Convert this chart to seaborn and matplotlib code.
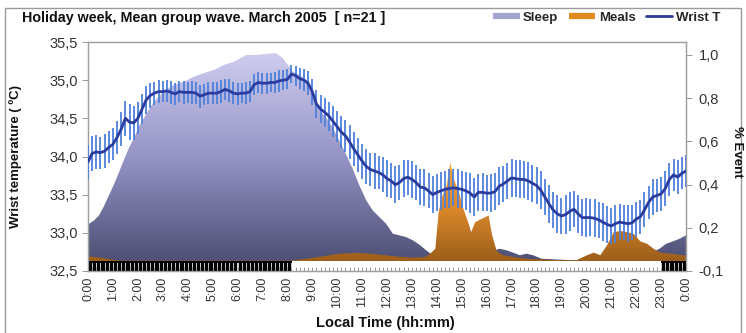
import numpy as np
import matplotlib
matplotlib.use("Agg")
import matplotlib.pyplot as plt
import seaborn as sns
from matplotlib.colors import LinearSegmentedColormap
from matplotlib.lines import Line2D
from matplotlib.patches import Rectangle, PathPatch
from matplotlib.ticker import MultipleLocator, FuncFormatter

# ---------------- data ----------------
title = "Holiday week, Mean group wave. March 2005  [ n=21 ]"
hour_labels = [f"{h % 24}:00" for h in range(25)]

# wrist temperature, one value every 10 minutes (0:00 .. 24:00)
temp_c = [
    33.93, 34.04, 34.06, 34.05, 34.07, 34.12,
    34.16, 34.25, 34.36, 34.50, 34.45, 34.44,
    34.50, 34.62, 34.74, 34.80, 34.83, 34.85,
    34.85, 34.86, 34.84, 34.82, 34.85, 34.84,
    34.84, 34.84, 34.83, 34.79, 34.81, 34.83,
    34.83, 34.83, 34.85, 34.88, 34.86, 34.83,
    34.82, 34.83, 34.83, 34.85, 34.94, 34.97,
    34.96, 34.96, 34.97, 34.97, 34.99, 35.00,
    35.01, 35.08, 35.06, 35.02, 35.00, 34.96,
    34.85, 34.69, 34.62, 34.58, 34.53, 34.46,
    34.39, 34.32, 34.27, 34.19, 34.10, 34.02,
    33.94, 33.87, 33.83, 33.81, 33.79, 33.76,
    33.71, 33.68, 33.63, 33.66, 33.71, 33.73,
    33.70, 33.66, 33.60, 33.59, 33.55, 33.50,
    33.53, 33.55, 33.57, 33.58, 33.59, 33.58,
    33.57, 33.55, 33.52, 33.47, 33.53, 33.53,
    33.52, 33.52, 33.54, 33.61, 33.64, 33.68,
    33.72, 33.71, 33.70, 33.70, 33.68, 33.65,
    33.62, 33.56, 33.47, 33.38, 33.30, 33.25,
    33.22, 33.24, 33.28, 33.31, 33.25, 33.20,
    33.20, 33.20, 33.19, 33.17, 33.14, 33.11,
    33.09, 33.12, 33.14, 33.13, 33.12, 33.13,
    33.18, 33.21, 33.30, 33.40, 33.47, 33.49,
    33.51, 33.58, 33.70, 33.76, 33.73, 33.78,
    33.81,
]
temp_sem = [
    0.22, 0.23, 0.22, 0.21, 0.22, 0.21,
    0.21, 0.22, 0.22, 0.23, 0.24, 0.22,
    0.21, 0.20, 0.18, 0.16, 0.15, 0.15,
    0.14, 0.14, 0.15, 0.14, 0.14, 0.15,
    0.14, 0.15, 0.14, 0.15, 0.14, 0.14,
    0.14, 0.14, 0.15, 0.14, 0.15, 0.14,
    0.14, 0.13, 0.14, 0.14, 0.14, 0.14,
    0.14, 0.14, 0.13, 0.14, 0.14, 0.13,
    0.13, 0.12, 0.13, 0.14, 0.14, 0.16,
    0.17, 0.18, 0.18, 0.19, 0.19, 0.20,
    0.20, 0.21, 0.21, 0.22, 0.22, 0.22,
    0.23, 0.23, 0.22, 0.23, 0.22, 0.23,
    0.24, 0.23, 0.24, 0.23, 0.24, 0.23,
    0.24, 0.23, 0.24, 0.24, 0.23, 0.24,
    0.24, 0.25, 0.24, 0.25, 0.24, 0.25,
    0.24, 0.25, 0.26, 0.25, 0.24, 0.25,
    0.24, 0.25, 0.24, 0.25, 0.24, 0.24,
    0.25, 0.24, 0.25, 0.24, 0.25, 0.24,
    0.24, 0.25, 0.24, 0.25, 0.24, 0.25,
    0.24, 0.25, 0.25, 0.24, 0.25, 0.24,
    0.25, 0.24, 0.25, 0.24, 0.25, 0.24,
    0.24, 0.25, 0.24, 0.23, 0.24, 0.23,
    0.23, 0.22, 0.23, 0.22, 0.23, 0.22,
    0.22, 0.23, 0.22, 0.21, 0.22, 0.21,
    0.21,
]

# fraction of subjects sleeping (right axis)
sleep_hours = [0, 0.24, 0.44, 0.64, 0.84, 1.04, 1.24, 1.45, 1.65, 1.85, 2.05, 2.25,
               2.52, 2.78, 3.05, 3.32, 3.59, 3.86, 4.26, 4.66, 5.06, 5.46, 5.86, 6.35,
               6.75, 7.15, 7.55, 7.82, 8.02, 8.22, 8.49, 8.76, 9.02, 9.29, 9.56, 9.83,
               10.1, 10.36, 10.63, 10.9, 11.17, 11.43, 11.7, 11.97, 12.24, 12.5, 12.77,
               13.04, 13.3, 13.57, 13.84, 14.2, 15.0, 15.8, 16.3, 16.52, 16.79, 17.06,
               17.33, 17.6, 17.86, 18.2, 18.8, 19.5, 20.2, 21.0, 21.8, 22.5, 22.94,
               23.2, 23.47, 23.74, 24.0]
sleep_frac = [0.215, 0.234, 0.257, 0.30, 0.35, 0.40, 0.456, 0.517, 0.571, 0.617, 0.67,
              0.709, 0.762, 0.80, 0.831, 0.854, 0.867, 0.877, 0.90, 0.916, 0.931, 0.954,
              0.969, 1.0, 1.0, 1.005, 1.008, 0.985, 0.954, 0.923, 0.908, 0.885, 0.824,
              0.747, 0.709, 0.663, 0.601, 0.54, 0.471, 0.394, 0.326, 0.28, 0.249, 0.218,
              0.172, 0.165, 0.157, 0.142, 0.122, 0.096, 0.073, 0.065, 0.065, 0.075,
              0.095, 0.103, 0.096, 0.085, 0.073, 0.08, 0.073, 0.057, 0.053, 0.05, 0.052,
              0.06, 0.07, 0.08, 0.103, 0.126, 0.137, 0.149, 0.165]

# fraction of subjects having meals (right axis)
meal_hours = [0, 0.5, 1.0, 1.3, 8.2, 8.7, 9.3, 10.1, 10.9, 11.5, 12.0, 12.5, 13.0, 13.5,
              13.73, 13.94, 14.07, 14.2, 14.4, 14.54, 14.67, 14.87, 15.07, 15.23, 15.38,
              15.54, 15.74, 15.94, 16.08, 16.21, 16.41, 16.68, 17.08, 17.62, 18.3, 19.0,
              19.6, 20.03, 20.3, 20.56, 20.83, 21.1, 21.37, 21.63, 21.9, 22.17, 22.44,
              22.7, 22.97, 23.37, 23.9, 24.0]
meal_frac = [0.068, 0.062, 0.052, 0.048, 0.048, 0.056, 0.066, 0.08, 0.084, 0.078, 0.072,
             0.066, 0.062, 0.064, 0.08, 0.103, 0.27, 0.34, 0.40, 0.502, 0.43, 0.37,
             0.287, 0.235, 0.18, 0.226, 0.238, 0.249, 0.257, 0.17, 0.09, 0.073, 0.065,
             0.057, 0.053, 0.05, 0.05, 0.073, 0.085, 0.073, 0.119, 0.18, 0.185, 0.18,
             0.172, 0.137, 0.126, 0.103, 0.085, 0.08, 0.073, 0.073]

dark_periods = [(0.0, 8.17), (23.0, 24.0)]
band_top = 0.045
right_ticks = [0.0, 0.2, 0.4, 0.6, 0.8, 1.0]
right_labels = ["-0,1", "0,2", "0,4", "0,6", "0,8", "1,0"]

# ---------------- style ----------------
sns.set_theme(style="white")
plt.rcParams["font.family"] = ["Liberation Sans", "DejaVu Sans"]

W, H = 746, 333
fig = plt.figure(figsize=(W / 100, H / 100), dpi=100)
fig.patch.set_facecolor("white")
L, R, T, B = 88, 686, 42, 271
ax = fig.add_axes([L / W, 1 - B / H, (R - L) / W, (B - T) / H])
ax2 = ax.twinx()
ax.set_zorder(ax2.get_zorder() + 1)
ax.patch.set_visible(False)

time_h = np.arange(len(temp_c)) / 6.0


def gradient_fill(axis, x, y, base, colors, vmin, vmax, z):
    poly = axis.fill_between(x, base, y, facecolor="none", edgecolor="none", zorder=z)
    path = poly.get_paths()[0]
    clip = PathPatch(path, transform=axis.transData, facecolor="none", edgecolor="none")
    axis.add_patch(clip)
    cmap = LinearSegmentedColormap.from_list("g", colors)
    grad = np.linspace(0, 1, 256).reshape(-1, 1)
    im = axis.imshow(grad, extent=[0, 24, vmin, vmax], origin="lower", aspect="auto",
                     cmap=cmap, zorder=z, interpolation="bilinear")
    im.set_clip_path(clip)


gradient_fill(ax2, sleep_hours, sleep_frac, band_top,
              ["#4e5076", "#9594c6", "#cfcdee"], band_top, 1.01, 1)
gradient_fill(ax2, meal_hours, meal_frac, band_top,
              ["#9c5e1a", "#d8862a", "#f4a63a"], band_top, 0.5, 2)

# dark-phase band: solid black with thin white separators every 10 min
slots = np.arange(0, 24, 1 / 6) + 1 / 12
band = [band_top if any(s < t < e for s, e in dark_periods) else 0 for t in slots]
ax2.bar(slots, band, width=1 / 6, color="black", edgecolor="white", linewidth=0.45,
        zorder=3)
for s, e in dark_periods:
    ax2.fill_between([s, e], band_top * 0.8, band_top, color="black", lw=0, zorder=3.5)

# temperature with error bars
ax.errorbar(time_h, temp_c, yerr=temp_sem, fmt="none", ecolor="#4f80dc",
            elinewidth=1.3, capsize=0, zorder=4)
sns.lineplot(x=time_h, y=temp_c, ax=ax, color="#2a3c9e", linewidth=2.0, zorder=5,
             legend=False)

# axes limits / ticks
ax.set_xlim(0, 24)
ax2.set_xlim(0, 24)
ax.set_ylim(32.5, 35.5)
ax2.set_ylim(0, 1.06)

ax.set_xticks(range(25))
ax.set_xticklabels(hour_labels, rotation=90, fontsize=9, color="#333333")
ax.xaxis.set_minor_locator(MultipleLocator(1 / 6))
ax.tick_params(axis="x", which="both", direction="in", bottom=True, color="#999999",
               length=3, width=0.7, pad=4)
ax.set_yticks(np.arange(32.5, 35.51, 0.5))
ax.yaxis.set_major_formatter(FuncFormatter(lambda v, p: f"{v:.1f}".replace(".", ",")))
ax.tick_params(axis="y", direction="out", left=True, length=4, width=0.7, color="#999999",
               labelsize=10.5, labelcolor="#333333", pad=3)
ax2.set_yticks(right_ticks)
ax2.set_yticklabels(right_labels)
ax2.tick_params(axis="y", direction="out", right=True, length=4, width=0.7, color="#999999",
                labelsize=10.5, labelcolor="#333333", pad=5)
ax.set_xlabel("")
ax.set_ylabel("")
ax2.grid(False)
ax.grid(False)

for a in (ax, ax2):
    for s in a.spines.values():
        s.set_color("#a0a0a0")
        s.set_linewidth(0.9)

# texts
fig.text(22 / W, 1 - 18 / H, title, ha="left", va="center", fontsize=10.3,
         fontweight="bold", color="#111111")
fig.text(16 / W, 1 - 157 / H, "Wrist temperature ( ºC)", rotation=90, ha="center",
         va="center", fontsize=9.5, fontweight="bold", color="#111111")
fig.text(737 / W, 1 - 152 / H, "% Event", rotation=270, ha="center", va="center",
         fontsize=9.5, fontweight="bold", color="#111111")
fig.text(385 / W, 1 - 323 / H, "Local Time (hh:mm)", ha="center", va="center",
         fontsize=10.5, fontweight="bold", color="#111111")

handles = [
    Line2D([], [], color="#a3a3cf", lw=4.5, solid_capstyle="butt"),
    Line2D([], [], color="#e0891f", lw=4.5, solid_capstyle="butt"),
    Line2D([], [], color="#2a3c9e", lw=2.0),
]
fig.legend(handles, ["Sleep", "Meals", "Wrist T"], loc="center right",
           bbox_to_anchor=(720 / W, 1 - 18 / H), ncol=3, frameon=False,
           prop=dict(weight="bold", size=9.5), handlelength=2.0, handletextpad=0.25,
           columnspacing=0.8, borderpad=0, borderaxespad=0)

fig.add_artist(Rectangle((5 / W, -0.05), 736 / W, (H - 8) / H + 0.05,
                         transform=fig.transFigure, fill=False, ec="#9a9a9a", lw=1.0))

fig.savefig("out.png", dpi=100)
